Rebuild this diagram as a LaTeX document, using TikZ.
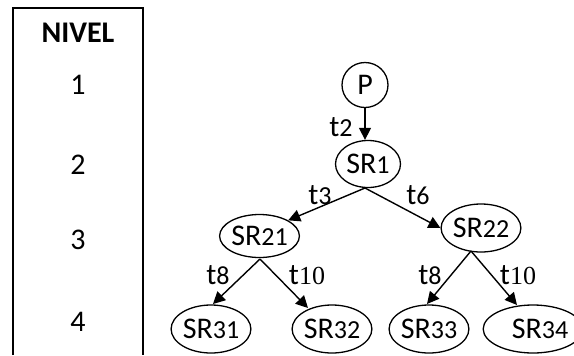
\documentclass[tikz,border=0pt]{standalone}
\usepackage{fontspec}
\setmainfont{Carlito}
\newfontfamily\serifdigits{Liberation Serif}
\usetikzlibrary{arrows.meta,shapes.geometric}
\newcommand\dg[1]{{\fontsize{13}{15}\selectfont #1}}
\newcommand\sdg[1]{{\serifdigits\fontsize{13}{15}\selectfont #1}}
\begin{document}
\begin{tikzpicture}[x=0.5pt,y=-0.5pt,
  st/.style={draw, ellipse, line width=0.65pt, inner sep=0pt, font=\fontsize{15}{17}\selectfont},
  lbl/.style={font=\fontsize{15}{17}\selectfont, inner sep=0pt},
  conn/.style={line width=0.7pt, -{Triangle[length=6pt,width=6pt]}},
  lvl/.style={font=\fontsize{15}{17}\selectfont, inner sep=0pt}]
\useasboundingbox (0,0) rectangle (574,355);
% level column
\draw[line width=0.7pt] (13,355) -- (13,8) -- (143,8) -- (143,355);
\node[lvl, font=\fontsize{15}{17}\selectfont\bfseries] (niv) at (78,33) {NIVEL};
\node[lvl] (l1) at (78,85) {1};
\node[lvl] (l2) at (78,165) {2};
\node[lvl] (l3) at (78,240) {3};
\node[lvl] (l4) at (78,322) {4};
% states
\node[st, minimum width=23pt, minimum height=22.5pt] (P) at (365,85) {P};
\node[st, minimum width=32.5pt, minimum height=23.5pt] (SR1) at (368,164) {SR\dg{1}};
\node[st, minimum width=37.5pt, minimum height=21.5pt] (SR21) at (259.5,236) {SR\dg{21}};
\node[st, minimum width=38.5pt, minimum height=24pt] (SR22) at (481,228) {SR\dg{22}};
\node[st, minimum width=36pt, minimum height=24pt] (SR31) at (211,329) {SR\dg{31}};
\node[st, minimum width=37pt, minimum height=24pt] (SR32) at (332,329) {SR\dg{32}};
\node[st, minimum width=38pt, minimum height=24pt] (SR33) at (429,329) {SR\dg{33}};
\node[st, minimum width=35pt, minimum height=24pt] (SR34) at (533,329) {\hspace*{7pt}SR\dg{34}};
% connectors
\draw[conn] (P.south) -- (P.south |- SR1.north);
\coordinate (s1) at (365,188);
\draw[conn] (s1) -- (SR21.north east);
\draw[conn] (s1) -- (SR22.west);
\coordinate (s21) at (260,259);
\draw[conn] (s21) -- (213,304);
\draw[conn] (s21) -- (308,308);
\coordinate (s22) at (471,251);
\draw[conn] (s22) -- (427,304);
\draw[conn] (s22) -- (517,305);
% labels
\node[lbl] (t2) at (341,127) {t\dg{2}};
\node[lbl] (t3) at (320,195) {t\dg{3}};
\node[lbl] (t6) at (418,195) {t\dg{6}};
\node[lbl] (t8a) at (218,275) {t\dg{8}};
\node[lbl] (t10a) at (307,275) {t\sdg{10}};
\node[lbl] (t8b) at (430,275) {t\dg{8}};
\node[lbl] (t10b) at (518,275) {t\sdg{10}};
\end{tikzpicture}
\end{document}
